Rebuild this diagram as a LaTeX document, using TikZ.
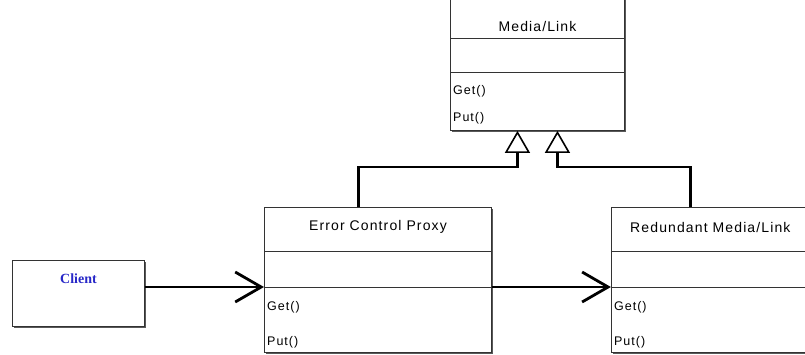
\documentclass[tikz,border=0pt]{standalone}
\usepackage{fontspec}
\setmainfont{Liberation Sans}
\newfontfamily\umlfont[LetterSpace=8]{Liberation Sans}
\newfontfamily\clientfont{Liberation Serif}
\usetikzlibrary{arrows.meta,positioning,calc,shadows}
\definecolor{clientblue}{RGB}{40,40,200}
\tikzset{
  classbox/.style={draw=black!80, fill=white, line width=0.9pt, inner sep=0pt, drop shadow={shadow xshift=1.2pt, shadow yshift=-1.2pt, fill=black!65, opacity=1}},
  classname/.style={inner sep=0pt, font=\umlfont\fontsize{14}{16}\selectfont},
  opname/.style={inner sep=0pt, anchor=west, font=\umlfont\fontsize{12.5}{14}\selectfont},
  clientname/.style={inner sep=0pt, text=clientblue, font=\clientfont\bfseries\fontsize{14}{16}\selectfont},
  sepline/.style={draw=black!80, line width=0.9pt},
  assoc/.style={-{Straight Barb[length=26pt,width=30pt]}, line width=2.8pt},
  inherit/.style={-{Triangle[open,length=22pt,width=25pt,line width=1.6pt]}, line width=2.8pt}
}
\begin{document}
\begin{tikzpicture}[x=1pt,y=-1pt]
\useasboundingbox (0,0) rectangle (805,354);
% classes
\node[classbox, minimum width=174pt, minimum height=136pt, anchor=north west] (media) at (450,-6) {};
\node[classbox, minimum width=227pt, minimum height=145pt, anchor=north west] (ecp) at (264,207) {};
\node[classbox, minimum width=198pt, minimum height=145pt, right=119pt of ecp] (red) {};
\node[classbox, minimum width=132pt, minimum height=66pt, anchor=north west] (client) at (12,260) {};
% names
\node[classname] (media-name) at ([yshift=-32pt]media.north) {Media/Link};
\node[classname] (ecp-name) at ([yshift=-20pt]ecp.north) {Error Control Proxy};
\node[classname] (red-name) at ([yshift=-20pt]red.north) {Redundant Media/Link};
\node[clientname] (client-name) at ([yshift=-19pt]client.north) {Client};
% compartments
\coordinate (media-s1) at ([yshift=-44pt]media.north west);
\coordinate (media-s2) at ([yshift=-78pt]media.north west);
\coordinate (ecp-s1) at ([yshift=-44pt]ecp.north west);
\coordinate (ecp-s2) at ([yshift=-80pt]ecp.north west);
\coordinate (red-s1) at ([yshift=-44pt]red.north west);
\coordinate (red-s2) at ([yshift=-80pt]red.north west);
\draw[sepline] (media-s1) -- (media-s1 -| media.east);
\draw[sepline] (media-s2) -- (media-s2 -| media.east);
\draw[sepline] (ecp-s1) -- (ecp-s1 -| ecp.east);
\draw[sepline] (ecp-s2) -- (ecp-s2 -| ecp.east);
\draw[sepline] (red-s1) -- (red-s1 -| red.east);
\draw[sepline] (red-s2) -- (red-s2 -| red.east);
% operations
\node[opname] (media-get) at ([xshift=3pt,yshift=-19pt]media-s2) {Get()};
\node[opname] (media-put) at ([xshift=3pt,yshift=-46pt]media-s2) {Put()};
\node[opname] (ecp-get) at ([xshift=3pt,yshift=-20pt]ecp-s2) {Get()};
\node[opname] (ecp-put) at ([xshift=3pt,yshift=-55pt]ecp-s2) {Put()};
\node[opname] (red-get) at ([xshift=3pt,yshift=-20pt]red-s2) {Get()};
\node[opname] (red-put) at ([xshift=3pt,yshift=-55pt]red-s2) {Put()};
% connectors
\draw[assoc] (client.east |- ecp-s2) -- (ecp-s2);
\draw[assoc] (ecp-s2 -| ecp.east) -- (red-s2);
\draw[inherit] ([xshift=-19.5pt]ecp.north) -- ++(0,-40) -| ([xshift=-20pt]media.south);
\draw[inherit] ([xshift=-19.5pt]red.north) -- ++(0,-40) -| ([xshift=20pt]media.south);
\end{tikzpicture}
\end{document}
